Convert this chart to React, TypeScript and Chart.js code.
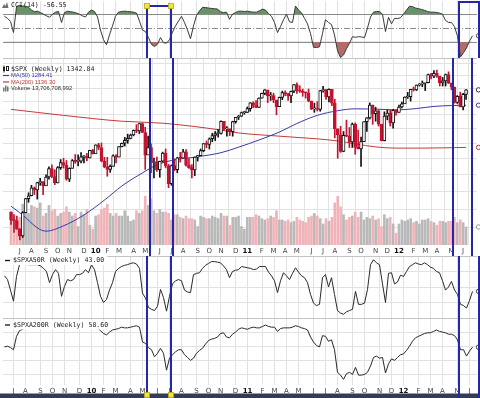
import React, { useEffect, useRef } from 'react';
import { Chart, registerables } from 'chart.js';

Chart.register(...registerables);

// ---------------- data: weekly bars, dated by the Monday of each week ----------------
const FIRST_MONDAY = [2009, 5, 15]; // 15 Jun 2009
const FIRST_OPEN = 942.5;

const closes = [
  921.2, 918.9, 896.4, 879.1, 940.4, 979.3, 987.5, 1010.5, 1004.1, 1026.1, 1028.9, 1016.4, 1042.7, 1068.3, 1044.4, 1025.2, 1071.5, 1087.7, 1079.6, 1036.2, 1069.3, 1093.5, 1091.4, 1091.5, 1106.0, 1106.4, 1102.5, 1126.5, 1115.1,
  1145.0, 1136.0, 1091.8, 1073.9, 1066.2, 1075.5, 1109.2, 1104.5, 1138.7, 1150.0, 1159.9, 1166.6, 1178.1, 1194.4, 1192.1, 1217.3, 1186.7, 1110.9, 1135.7, 1087.7, 1089.4, 1064.9, 1091.6, 1117.5, 1076.8, 1022.6, 1078.0, 1064.9, 1102.7, 1101.6, 1121.6, 1079.3, 1071.7, 1064.6, 1104.5, 1109.6, 1125.6, 1148.7, 1146.2, 1165.2, 1176.2, 1183.1, 1183.3, 1225.9, 1199.2, 1199.7, 1189.4, 1224.7, 1240.4, 1243.9, 1256.8, 1257.6,
  1271.5, 1293.2, 1283.4, 1276.3, 1310.9, 1329.2, 1343.0, 1319.9, 1321.2, 1304.3, 1279.2, 1313.8, 1332.4, 1328.2, 1319.7, 1337.4, 1363.6, 1340.2, 1337.8, 1333.3, 1331.1, 1300.2, 1271.0, 1271.5, 1268.5, 1339.7, 1343.8, 1316.1, 1345.0, 1292.3, 1199.4, 1178.8, 1123.5, 1176.8, 1174.0, 1154.2, 1216.0, 1136.4, 1131.4, 1155.5, 1224.6, 1238.3, 1285.1, 1253.2, 1263.9, 1215.7, 1158.7, 1244.3, 1255.2, 1219.7, 1265.3, 1257.6,
  1277.8, 1289.1, 1315.4, 1316.3, 1344.9, 1342.6, 1361.2, 1365.7, 1369.6, 1370.9, 1404.2, 1397.1, 1408.5, 1398.1, 1370.3, 1378.5, 1403.4, 1369.1, 1353.4, 1295.2, 1317.8, 1278.0, 1325.7, 1342.84,
];

const highs = [
  942, 935, 931, 898, 943, 980, 996, 1018, 1013, 1027, 1039, 1028, 1049, 1074, 1080, 1065, 1075, 1097, 1101, 1094, 1071, 1097, 1113, 1112, 1119, 1110, 1117, 1127, 1130,
  1145, 1150, 1151, 1104, 1104, 1080, 1112, 1113, 1139, 1151, 1170, 1181, 1181, 1195, 1214, 1218, 1220, 1205, 1174, 1148, 1102, 1105, 1092, 1121, 1131, 1082, 1080, 1099, 1104, 1120, 1130, 1129, 1100, 1081, 1105, 1110, 1131, 1149, 1158, 1168, 1184, 1190, 1197, 1227, 1226, 1207, 1199, 1226, 1240, 1247, 1259, 1262,
  1278, 1294, 1297, 1302, 1312, 1330, 1344, 1339, 1333, 1330, 1302, 1315, 1338, 1339, 1329, 1338, 1364, 1371, 1359, 1346, 1334, 1346, 1300, 1292, 1298, 1341, 1357, 1344, 1347, 1345, 1307, 1199, 1208, 1190, 1230, 1204, 1220, 1220, 1195, 1171, 1224, 1239, 1293, 1285, 1277, 1266, 1208, 1260, 1267, 1266, 1269, 1267,
  1285, 1296, 1316, 1333, 1345, 1354, 1362, 1368, 1378, 1372, 1406, 1409, 1420, 1422, 1397, 1392, 1406, 1415, 1370, 1354, 1321, 1334, 1329, 1344,
];

const lows = [
  909, 888, 896, 869, 875, 940, 969, 987, 991, 978, 1018, 991, 1017, 1036, 1041, 1020, 1025, 1066, 1070, 1033, 1029, 1070, 1085, 1077, 1086, 1086, 1093, 1102, 1115,
  1117, 1129, 1090, 1071, 1045, 1057, 1076, 1086, 1105, 1138, 1141, 1150, 1165, 1175, 1186, 1183, 1186, 1066, 1126, 1056, 1040, 1060, 1042, 1089, 1071, 1011, 1018, 1062, 1056, 1089, 1106, 1076, 1069, 1040, 1047, 1092, 1110, 1122, 1135, 1131, 1155, 1159, 1171, 1181, 1194, 1174, 1176, 1174, 1219, 1232, 1243, 1251,
  1257, 1262, 1275, 1275, 1276, 1311, 1324, 1294, 1302, 1294, 1249, 1279, 1305, 1320, 1302, 1294, 1332, 1329, 1333, 1318, 1311, 1297, 1268, 1258, 1263, 1262, 1334, 1306, 1297, 1283, 1168, 1101, 1120, 1122, 1172, 1136, 1136, 1114, 1131, 1075, 1168, 1190, 1234, 1215, 1226, 1209, 1158, 1158, 1231, 1209, 1202, 1248,
  1258, 1274, 1290, 1310, 1300, 1338, 1340, 1358, 1355, 1340, 1370, 1386, 1391, 1392, 1358, 1358, 1358, 1368, 1343, 1292, 1291, 1278, 1267, 1306,
];

const LAST_VOLUME = 13706708992;
const volumesBn = [
  25, 22, 17, 21, 31, 28, 24, 30, 29, 28, 32, 22, 24, 30, 26, 27, 22, 24, 25, 29, 25, 22, 24, 14, 25, 23, 27, 15, 12,
  22, 23, 27, 28, 31, 24, 22, 24, 22, 22, 26, 22, 18, 19, 26, 24, 26, 37, 30, 35, 26, 24, 27, 25, 25, 24, 19, 23, 23, 21, 20, 22, 20, 20, 19, 14, 22, 21, 20, 20, 22, 21, 20, 24, 22, 22, 15, 21, 21, 22, 14, 12,
  21, 21, 21, 23, 22, 20, 19, 20, 22, 21, 26, 19, 19, 18, 19, 17, 18, 21, 19, 18, 17, 21, 22, 24, 22, 20, 16, 20, 18, 21, 32, 37, 29, 23, 19, 21, 22, 25, 21, 25, 19, 21, 20, 22, 19, 20, 14, 23, 20, 21, 16, 9,
  16, 19, 18, 19, 20, 17, 18, 16, 19, 19, 20, 18, 17, 15, 18, 18, 17, 18, 18, 21, 17, 19, 17, LAST_VOLUME / 1e9,
];

// moving averages at [week index, value]
const MA50_LAST = 1284.41;
const MA200_LAST = 1136.3;
const ma50Samples = [
  [0, 958], [3, 940], [12, 891], [18, 905], [25, 934], [32, 975], [38, 1016], [45, 1055], [50, 1080], [55, 1094],
  [64, 1106], [72, 1119], [78, 1137], [85, 1161], [92, 1188], [98, 1218], [105, 1247], [112, 1264], [118, 1271],
  [125, 1270], [132, 1267], [139, 1272], [145, 1280], [151, 1283], [156, MA50_LAST],
];
const ma200Samples = [
  [0, 1269], [18, 1247], [38, 1226], [52, 1219], [72, 1195], [78, 1185], [92, 1174], [112, 1158], [118, 1148],
  [125, 1138], [132, 1134], [141, 1134], [156, MA200_LAST],
];

const cci = [
  85, 70, 48, -33, 155, 165, 160, 158, 150, 130,
  118, 122, 112, 100, 88, 78, 100, 115, 120, 40,
  112, 122, 118, 115, 108, 100, 88, 80, 115, 130,
  120, 80, -15, -85, -122, -50, 15, 85, 115, 120,
  122, 120, 118, 115, 108, 50, -15, -26, -70, -120,
  -135, -118, -70, -107, -110, -85, -30, 15, 50, 85,
  40, -15, -78, 15, 90, 125, 150, 148, 145, 142,
  140, 137, 118, 112, 115, 63, 100, 112, 122, 122,
  120, 122, 118, 115, 115, 125, 137, 130, 105, 85,
  40, -33, 10, 60, 100, 45, 40, 160, 130, 110,
  70, 30, -40, -140, -142, -137, -40, 60, 40, 25,
  -50, -165, -215, -196, -150, -110, -63, -68, -63, -65,
  -70, 0, 80, 115, 120, 120, 100, -26, 78, 30,
  70, 68, 75, 100, 130, 158, 155, 145, 140, 135,
  128, 120, 115, 115, 113, 108, 100, 55, 40, 40,
  10, -60, -210, -180, -145, -95, -56.55,
];

const spxa50r = [
  68, 62, 45, 27, 67, 86, 88, 87, 86, 86,
  86, 86, 84, 80, 75, 57, 70, 78, 72, 35,
  51, 62, 60, 62, 70, 70, 72, 78, 73, 86,
  78, 57, 35, 25, 30, 45, 57, 75, 80, 83,
  85, 86, 88, 89, 87, 80, 40, 32, 17, 14,
  12, 19, 46, 33, 11, 35, 55, 60, 62, 60,
  45, 42, 41, 70, 72, 73, 80, 85, 88, 91,
  91, 90, 89, 84, 78, 65, 75, 77, 78, 83,
  82, 81, 80, 78, 79, 83, 83, 83, 74, 68,
  60, 41, 60, 73, 68, 62, 72, 81, 74, 68,
  65, 57, 38, 24, 20, 22, 65, 70, 50, 65,
  38, 12, 8, 6, 10, 12, 14, 43, 22, 22,
  24, 46, 86, 94, 89, 86, 55, 25, 72, 73,
  55, 58, 69, 67, 75, 83, 86, 89, 87, 86,
  89, 86, 82, 80, 75, 73, 60, 45, 50, 59,
  45, 38, 22, 20, 16, 28, 43.0,
];

const spxa200r = [
  59, 60, 58, 55, 74, 82, 84, 86, 87, 88,
  89, 88, 90, 91, 90, 88, 90, 91, 90, 85,
  86, 88, 88, 87, 88, 88, 87, 89, 88, 89,
  88, 86, 82, 78, 76, 80, 83, 84, 85, 87,
  86, 86, 87, 88, 89, 87, 66, 64, 58, 55,
  45, 50, 57, 50, 26, 43, 48, 52, 55, 55,
  48, 44, 40, 43, 50, 54, 57, 63, 68, 70,
  71, 73, 78, 79, 73, 72, 77, 80, 84, 86,
  85, 84, 86, 87, 86, 86, 88, 90, 88, 87,
  87, 81, 85, 86, 86, 86, 87, 89, 88, 86,
  85, 83, 73, 66, 61, 59, 75, 74, 67, 69,
  55, 23, 19, 13, 21, 23, 20, 30, 19, 19,
  20, 23, 32, 44, 46, 43, 44, 22, 35, 42,
  40, 44, 48, 49, 54, 60, 67, 72, 74, 76,
  78, 79, 79, 81, 83, 81, 80, 79, 77, 77,
  75, 69, 55, 55, 46, 53, 58.6,
];

// axis ranges and grid levels
const CCI_RANGE = [-218, 196];
const CCI_LEVELS = [100, 0, -100];
const PRICE_RANGE = [856, 1473];
const PRICE_GRID = [900, 950, 1000, 1050, 1100, 1150, 1200, 1250, 1300, 1350, 1400, 1450];
const VOLUME_MAX_BN = 142;
const A50_RANGE = [0, 100];
const A50_GRID = [25, 50, 75];
const A200_RANGE = [5, 100];
const A200_GRID = [20, 40, 60, 80];

// annotation rectangles, in week-index units
const highlightRanges = [
  { from: 47.5, to: 55.5, topCci: 160, handles: true },
  { from: 151.5, to: 158, topCci: 188, handles: false },
];

const MONTH_LETTERS = ['J', 'F', 'M', 'A', 'M', 'J', 'J', 'A', 'S', 'O', 'N', 'D'];

// ---------------- styles ----------------
const UP = '#111111';
const DOWN = '#c4122f';
const VOL_UP = '#b9b9b9';
const VOL_DOWN = '#f2b3b8';
const MA50_COLOR = '#3a3aa6';
const MA200_COLOR = '#c43a3a';
const GRID = '#e2e2e2';
const RECT = '#2626a8';
const CCI_GREEN = 'rgb(104,146,104)';
const CCI_RED = 'rgb(178,108,106)';
const MONO = '6.6px "DejaVu Sans Mono"';
const SMALL = '5.8px "Liberation Sans"';

const N = closes.length;
const weekDates = Array.from({ length: N }, (_, i) => new Date(FIRST_MONDAY[0], FIRST_MONDAY[1], FIRST_MONDAY[2] + 7 * i));
const monthTicks: number[] = [];
for (let i = 1; i < N; i++) if (weekDates[i].getMonth() !== weekDates[i - 1].getMonth()) monthTicks.push(i);
const isYearTick = (v: number) => weekDates[v] && weekDates[v].getMonth() === 0;
const tickLabel = (v: number) => {
  const d = weekDates[v];
  if (!d) return '';
  return d.getMonth() === 0 ? String(d.getFullYear()).slice(2) : MONTH_LETTERS[d.getMonth()];
};

function xScale(axisHeight: number, showLabels: boolean): any {
  return {
    type: 'linear',
    bounds: 'data',
    min: -0.5,
    max: N + 0.5,
    afterBuildTicks: (axis: any) => {
      axis.ticks = monthTicks.map((v) => ({ value: v }));
    },
    afterFit: (axis: any) => {
      axis.height = axisHeight;
    },
    grid: { color: GRID, lineWidth: 1, drawTicks: false },
    border: { display: false },
    ticks: {
      display: showLabels,
      autoSkip: false,
      maxRotation: 0,
      minRotation: 0,
      padding: 2,
      color: (ctx: any) => (isYearTick(ctx.tick?.value) ? '#111' : '#444'),
      font: (ctx: any) => ({ family: 'DejaVu Sans', size: 7, weight: isYearTick(ctx.tick?.value) ? 'bold' : 'normal' }),
      callback: (v: any) => tickLabel(Number(v)),
    },
  };
}

function yScale(range: number[], gridVals: number[] | null, extra: any = {}): any {
  return {
    bounds: 'data',
    min: range[0],
    max: range[1],
    afterFit: (axis: any) => {
      axis.width = 0;
    },
    afterBuildTicks: (axis: any) => {
      if (gridVals) axis.ticks = gridVals.map((v) => ({ value: v }));
    },
    ticks: { display: false },
    border: { display: false },
    grid: { display: !!gridVals, color: GRID, drawTicks: false },
    ...extra,
  };
}

// ---------------- plugins ----------------
const bgPlugin = {
  id: 'bg',
  beforeDraw(chart: any) {
    const c = chart.ctx;
    c.save();
    c.fillStyle = '#ffffff';
    c.fillRect(0, 0, chart.width, chart.height);
    c.restore();
  },
};

const topBorderPlugin = {
  id: 'topBorder',
  beforeDatasetsDraw(chart: any) {
    const c = chart.ctx;
    const { left, right, top } = chart.chartArea;
    c.save();
    c.strokeStyle = '#c4c4c4';
    c.lineWidth = 1;
    c.beginPath();
    c.moveTo(left, Math.round(top) + 0.5);
    c.lineTo(right, Math.round(top) + 0.5);
    c.stroke();
    c.restore();
  },
};

function refLinesPlugin(axisId: string, levels: number[]) {
  return {
    id: 'refLines',
    beforeDatasetsDraw(chart: any) {
      const s = chart.scales[axisId];
      const { left, right } = chart.chartArea;
      const c = chart.ctx;
      c.save();
      c.lineWidth = 1;
      levels.forEach((v) => {
        const y = Math.round(s.getPixelForValue(v)) + 0.5;
        c.strokeStyle = '#8c8c8c';
        c.setLineDash(v === 0 ? [6, 2, 1, 2] : []);
        c.beginPath();
        c.moveTo(left, y);
        c.lineTo(right, y);
        c.stroke();
      });
      c.restore();
    },
  };
}

type LabelSpec = { text: string; x: number; y: number; font: string; color: string; icon?: string; iconColor?: string; bg?: boolean };

function drawIcon(c: CanvasRenderingContext2D, s: LabelSpec) {
  const x = s.x;
  const y = s.y;
  c.save();
  if (s.icon === 'mountain') {
    c.fillStyle = '#6e6e6e';
    c.beginPath();
    c.moveTo(x - 9, y + 3);
    c.lineTo(x - 7, y - 1);
    c.lineTo(x - 5.5, y + 1);
    c.lineTo(x - 4, y - 3);
    c.lineTo(x - 2.5, y + 3);
    c.closePath();
    c.fill();
  } else if (s.icon === 'candle') {
    c.fillStyle = '#222';
    c.fillRect(x - 8, y - 2, 2, 4);
    c.fillRect(x - 7.5, y - 3.5, 1, 7);
    c.strokeStyle = '#222';
    c.lineWidth = 1;
    c.strokeRect(x - 4.5, y - 2.5, 2, 4);
  } else if (s.icon === 'line') {
    c.strokeStyle = s.iconColor || '#000';
    c.lineWidth = 1.2;
    c.beginPath();
    c.moveTo(x - 8, y);
    c.lineTo(x - 2, y);
    c.stroke();
  } else if (s.icon === 'vol') {
    c.fillStyle = '#777';
    c.fillRect(x - 8, y - 1, 1.5, 4);
    c.fillRect(x - 6, y - 3, 1.5, 6);
    c.fillRect(x - 4, y - 2, 1.5, 5);
  } else if (s.icon === 'dash') {
    c.strokeStyle = '#111';
    c.lineWidth = 1.3;
    c.beginPath();
    c.moveTo(x - 8, y);
    c.lineTo(x - 3, y);
    c.stroke();
  }
  c.restore();
}

function labelsPlugin(specs: LabelSpec[]) {
  return {
    id: 'labels',
    afterDatasetsDraw(chart: any) {
      const c = chart.ctx;
      c.save();
      c.textBaseline = 'middle';
      c.textAlign = 'left';
      specs.forEach((s) => {
        c.font = s.font;
        const w = c.measureText(s.text).width;
        if (s.bg) {
          c.fillStyle = '#ffffff';
          c.fillRect(s.x - 10, s.y - 4.5, w + 13, 9);
        }
        drawIcon(c, s);
        c.fillStyle = s.color;
        c.fillText(s.text, s.x, s.y);
      });
      c.restore();
    },
  };
}

function markersPlugin(items: { axis: string; value: number; color: string }[]) {
  return {
    id: 'markers',
    afterDatasetsDraw(chart: any) {
      const c = chart.ctx;
      const x = chart.chartArea.right + 1.5;
      c.save();
      c.lineWidth = 1;
      items.forEach((m) => {
        const y = chart.scales[m.axis].getPixelForValue(m.value);
        c.beginPath();
        c.arc(x, y, 2.2, 0, Math.PI * 2);
        c.fillStyle = '#fff';
        c.fill();
        c.strokeStyle = m.color;
        c.stroke();
      });
      c.restore();
    },
  };
}

const navyBarPlugin = {
  id: 'navyBar',
  afterDraw(chart: any) {
    const c = chart.ctx;
    const y0 = chart.chartArea.bottom + 8.5;
    c.save();
    c.fillStyle = '#323b58';
    c.fillRect(0, y0, chart.width, chart.height - y0);
    c.restore();
  },
};

function highlightPlugin(kind: 'top' | 'mid' | 'bottom') {
  return {
    id: 'highlight',
    afterDraw(chart: any) {
      const c = chart.ctx;
      const xs = chart.scales.x;
      c.save();
      c.strokeStyle = RECT;
      c.lineWidth = 2;
      highlightRanges.forEach((r) => {
        const x1 = Math.round(xs.getPixelForValue(r.from));
        const x2 = Math.round(xs.getPixelForValue(r.to));
        const yTop = kind === 'top' ? Math.round(chart.scales.y.getPixelForValue(r.topCci)) : 0;
        const yBot = chart.height;
        c.beginPath();
        c.moveTo(x1, yTop);
        c.lineTo(x1, yBot);
        c.moveTo(x2, yTop);
        c.lineTo(x2, yBot);
        if (kind === 'top') {
          c.moveTo(x1 - 1, yTop);
          c.lineTo(x2 + 1, yTop);
        }
        c.stroke();
        if (r.handles && kind !== 'mid') {
          const hy = kind === 'top' ? yTop : chart.height - 3;
          [x1, x2].forEach((hx) => {
            c.fillStyle = '#f3e43c';
            c.fillRect(hx - 2.5, hy - 2.5, 5, 5);
            c.strokeStyle = '#b9a918';
            c.lineWidth = 0.8;
            c.strokeRect(hx - 2.5, hy - 2.5, 5, 5);
          });
          c.strokeStyle = RECT;
          c.lineWidth = 2;
        }
      });
      c.restore();
    },
  };
}

const baseOptions = (padding: any) => ({
  animation: false as const,
  responsive: false,
  events: [] as any[],
  layout: { padding },
  plugins: { legend: { display: false }, tooltip: { enabled: false } },
});

// ---------------- component ----------------
export default function App() {
  const refA = useRef<HTMLCanvasElement>(null);
  const refB = useRef<HTMLCanvasElement>(null);
  const refC = useRef<HTMLCanvasElement>(null);
  const refD = useRef<HTMLCanvasElement>(null);

  useEffect(() => {
    document.body.style.margin = '0';
    const charts: Chart[] = [];

    // --- CCI panel ---
    const cciPts = cci.map((v, i) => ({ x: i, y: v }));
    charts.push(
      new Chart(refA.current as HTMLCanvasElement, {
        type: 'line',
        data: {
          datasets: [
            {
              data: cciPts,
              borderColor: '#3a3a3a',
              borderWidth: 1,
              pointRadius: 0,
              fill: { target: { value: 100 }, above: CCI_GREEN, below: 'rgba(0,0,0,0)' },
            } as any,
            {
              data: cciPts,
              borderColor: 'rgba(0,0,0,0)',
              borderWidth: 0,
              pointRadius: 0,
              fill: { target: { value: -100 }, above: 'rgba(0,0,0,0)', below: CCI_RED },
            } as any,
          ],
        },
        options: {
          ...baseOptions({ top: 1, left: 3, right: 3, bottom: 0 }),
          scales: { x: xScale(0, false), y: yScale(CCI_RANGE, null) },
        } as any,
        plugins: [
          bgPlugin,
          refLinesPlugin('y', CCI_LEVELS),
          labelsPlugin([{ text: `CCI(14) ${cci[N - 1].toFixed(2)}`, x: 11, y: 5, font: MONO, color: '#222', icon: 'mountain' }]),
          markersPlugin([{ axis: 'y', value: cci[N - 1], color: '#555' }]),
          highlightPlugin('top'),
        ],
      })
    );

    // --- price + volume panel ---
    const opens = closes.map((c, i) => (i === 0 ? FIRST_OPEN : closes[i - 1]));
    const isUp = closes.map((c, i) => c >= opens[i]);
    charts.push(
      new Chart(refB.current as HTMLCanvasElement, {
        type: 'bar',
        data: {
          datasets: [
            {
              type: 'bar',
              yAxisID: 'yv',
              data: volumesBn.map((v, i) => ({ x: i, y: v })),
              backgroundColor: isUp.map((u) => (u ? VOL_UP : VOL_DOWN)),
              barThickness: 2,
              grouped: false,
              order: 10,
            },
            {
              type: 'line',
              yAxisID: 'y',
              data: ma200Samples.map(([x, y]) => ({ x, y })),
              borderColor: MA200_COLOR,
              borderWidth: 1,
              pointRadius: 0,
              cubicInterpolationMode: 'monotone',
              order: 6,
            },
            {
              type: 'line',
              yAxisID: 'y',
              data: ma50Samples.map(([x, y]) => ({ x, y })),
              borderColor: MA50_COLOR,
              borderWidth: 1,
              pointRadius: 0,
              cubicInterpolationMode: 'monotone',
              order: 5,
            },
            {
              type: 'bar',
              yAxisID: 'y',
              data: closes.map((c, i) => ({ x: i, y: [lows[i], highs[i]] })),
              backgroundColor: isUp.map((u) => (u ? UP : DOWN)),
              barThickness: 1,
              grouped: false,
              order: 2,
            },
            {
              type: 'bar',
              yAxisID: 'y',
              data: closes.map((c, i) => ({ x: i, y: [opens[i], c] })),
              backgroundColor: isUp.map((u) => (u ? '#ffffff' : DOWN)),
              borderColor: isUp.map((u) => (u ? UP : DOWN)),
              borderWidth: 1,
              borderSkipped: false,
              minBarLength: 1,
              barThickness: 3,
              grouped: false,
              order: 1,
            },
          ] as any,
        },
        options: {
          ...baseOptions({ top: 0, left: 3, right: 3, bottom: 0 }),
          scales: {
            x: xScale(11, true),
            y: yScale(PRICE_RANGE, PRICE_GRID, { type: 'logarithmic', position: 'left' }),
            yv: { type: 'linear', display: false, min: 0, max: VOLUME_MAX_BN, position: 'right' },
          },
        } as any,
        plugins: [
          bgPlugin,
          topBorderPlugin,
          labelsPlugin([
            { text: `$SPX (Weekly) ${closes[N - 1].toFixed(2)}`, x: 11, y: 11, font: MONO, color: '#1a1a1a', icon: 'candle' },
            { text: `MA(50) ${MA50_LAST.toFixed(2)}`, x: 11, y: 17.5, font: SMALL, color: MA50_COLOR, icon: 'line', iconColor: MA50_COLOR },
            { text: `MA(200) ${MA200_LAST.toFixed(2)}`, x: 11, y: 24, font: SMALL, color: MA200_COLOR, icon: 'line', iconColor: MA200_COLOR },
            { text: `Volume ${LAST_VOLUME.toLocaleString('en-US')}`, x: 11, y: 30.5, font: SMALL, color: '#333', icon: 'vol' },
          ]),
          markersPlugin([
            { axis: 'y', value: closes[N - 1], color: '#333' },
            { axis: 'y', value: MA50_LAST, color: MA50_COLOR },
            { axis: 'y', value: MA200_LAST, color: MA200_COLOR },
            { axis: 'yv', value: volumesBn[N - 1], color: '#999' },
          ]),
          highlightPlugin('mid'),
        ],
      })
    );

    // --- $SPXA50R panel ---
    charts.push(
      new Chart(refC.current as HTMLCanvasElement, {
        type: 'line',
        data: {
          datasets: [
            { data: spxa50r.map((v, i) => ({ x: i, y: v })), borderColor: '#2a2a2a', borderWidth: 1, pointRadius: 0 },
          ],
        },
        options: {
          ...baseOptions({ top: 0, left: 3, right: 3, bottom: 0 }),
          scales: { x: xScale(0, false), y: yScale(A50_RANGE, A50_GRID) },
        } as any,
        plugins: [
          bgPlugin,
          topBorderPlugin,
          labelsPlugin([{ text: `$SPXA50R (Weekly) ${spxa50r[N - 1].toFixed(2)}`, x: 13, y: 4.5, font: MONO, color: '#1a1a1a', icon: 'dash', bg: true }]),
          markersPlugin([{ axis: 'y', value: spxa50r[N - 1], color: '#444' }]),
          highlightPlugin('mid'),
        ],
      })
    );

    // --- $SPXA200R panel ---
    charts.push(
      new Chart(refD.current as HTMLCanvasElement, {
        type: 'line',
        data: {
          datasets: [
            { data: spxa200r.map((v, i) => ({ x: i, y: v })), borderColor: '#2a2a2a', borderWidth: 1, pointRadius: 0 },
          ],
        },
        options: {
          ...baseOptions({ top: 0, left: 3, right: 3, bottom: 0 }),
          scales: { x: xScale(13, true), y: yScale(A200_RANGE, A200_GRID) },
        } as any,
        plugins: [
          bgPlugin,
          topBorderPlugin,
          labelsPlugin([{ text: `$SPXA200R (Weekly) ${spxa200r[N - 1].toFixed(2)}`, x: 13, y: 7, font: MONO, color: '#1a1a1a', icon: 'dash', bg: true }]),
          markersPlugin([{ axis: 'y', value: spxa200r[N - 1], color: '#444' }]),
          navyBarPlugin,
          highlightPlugin('bottom'),
        ],
      })
    );

    return () => {
      charts.forEach((ch) => ch.destroy());
    };
  }, []);

  const cv = (top: number): React.CSSProperties => ({ position: 'absolute', left: 0, top, display: 'block' });
  return (
    <div style={{ position: 'absolute', left: 0, top: 0, width: 480, height: 398, overflow: 'hidden', background: '#fff' }}>
      <canvas ref={refA} width={480} height={58} style={cv(0)} />
      <canvas ref={refB} width={480} height={198} style={cv(58)} />
      <canvas ref={refC} width={480} height={62} style={cv(256)} />
      <canvas ref={refD} width={480} height={80} style={cv(318)} />
    </div>
  );
}
